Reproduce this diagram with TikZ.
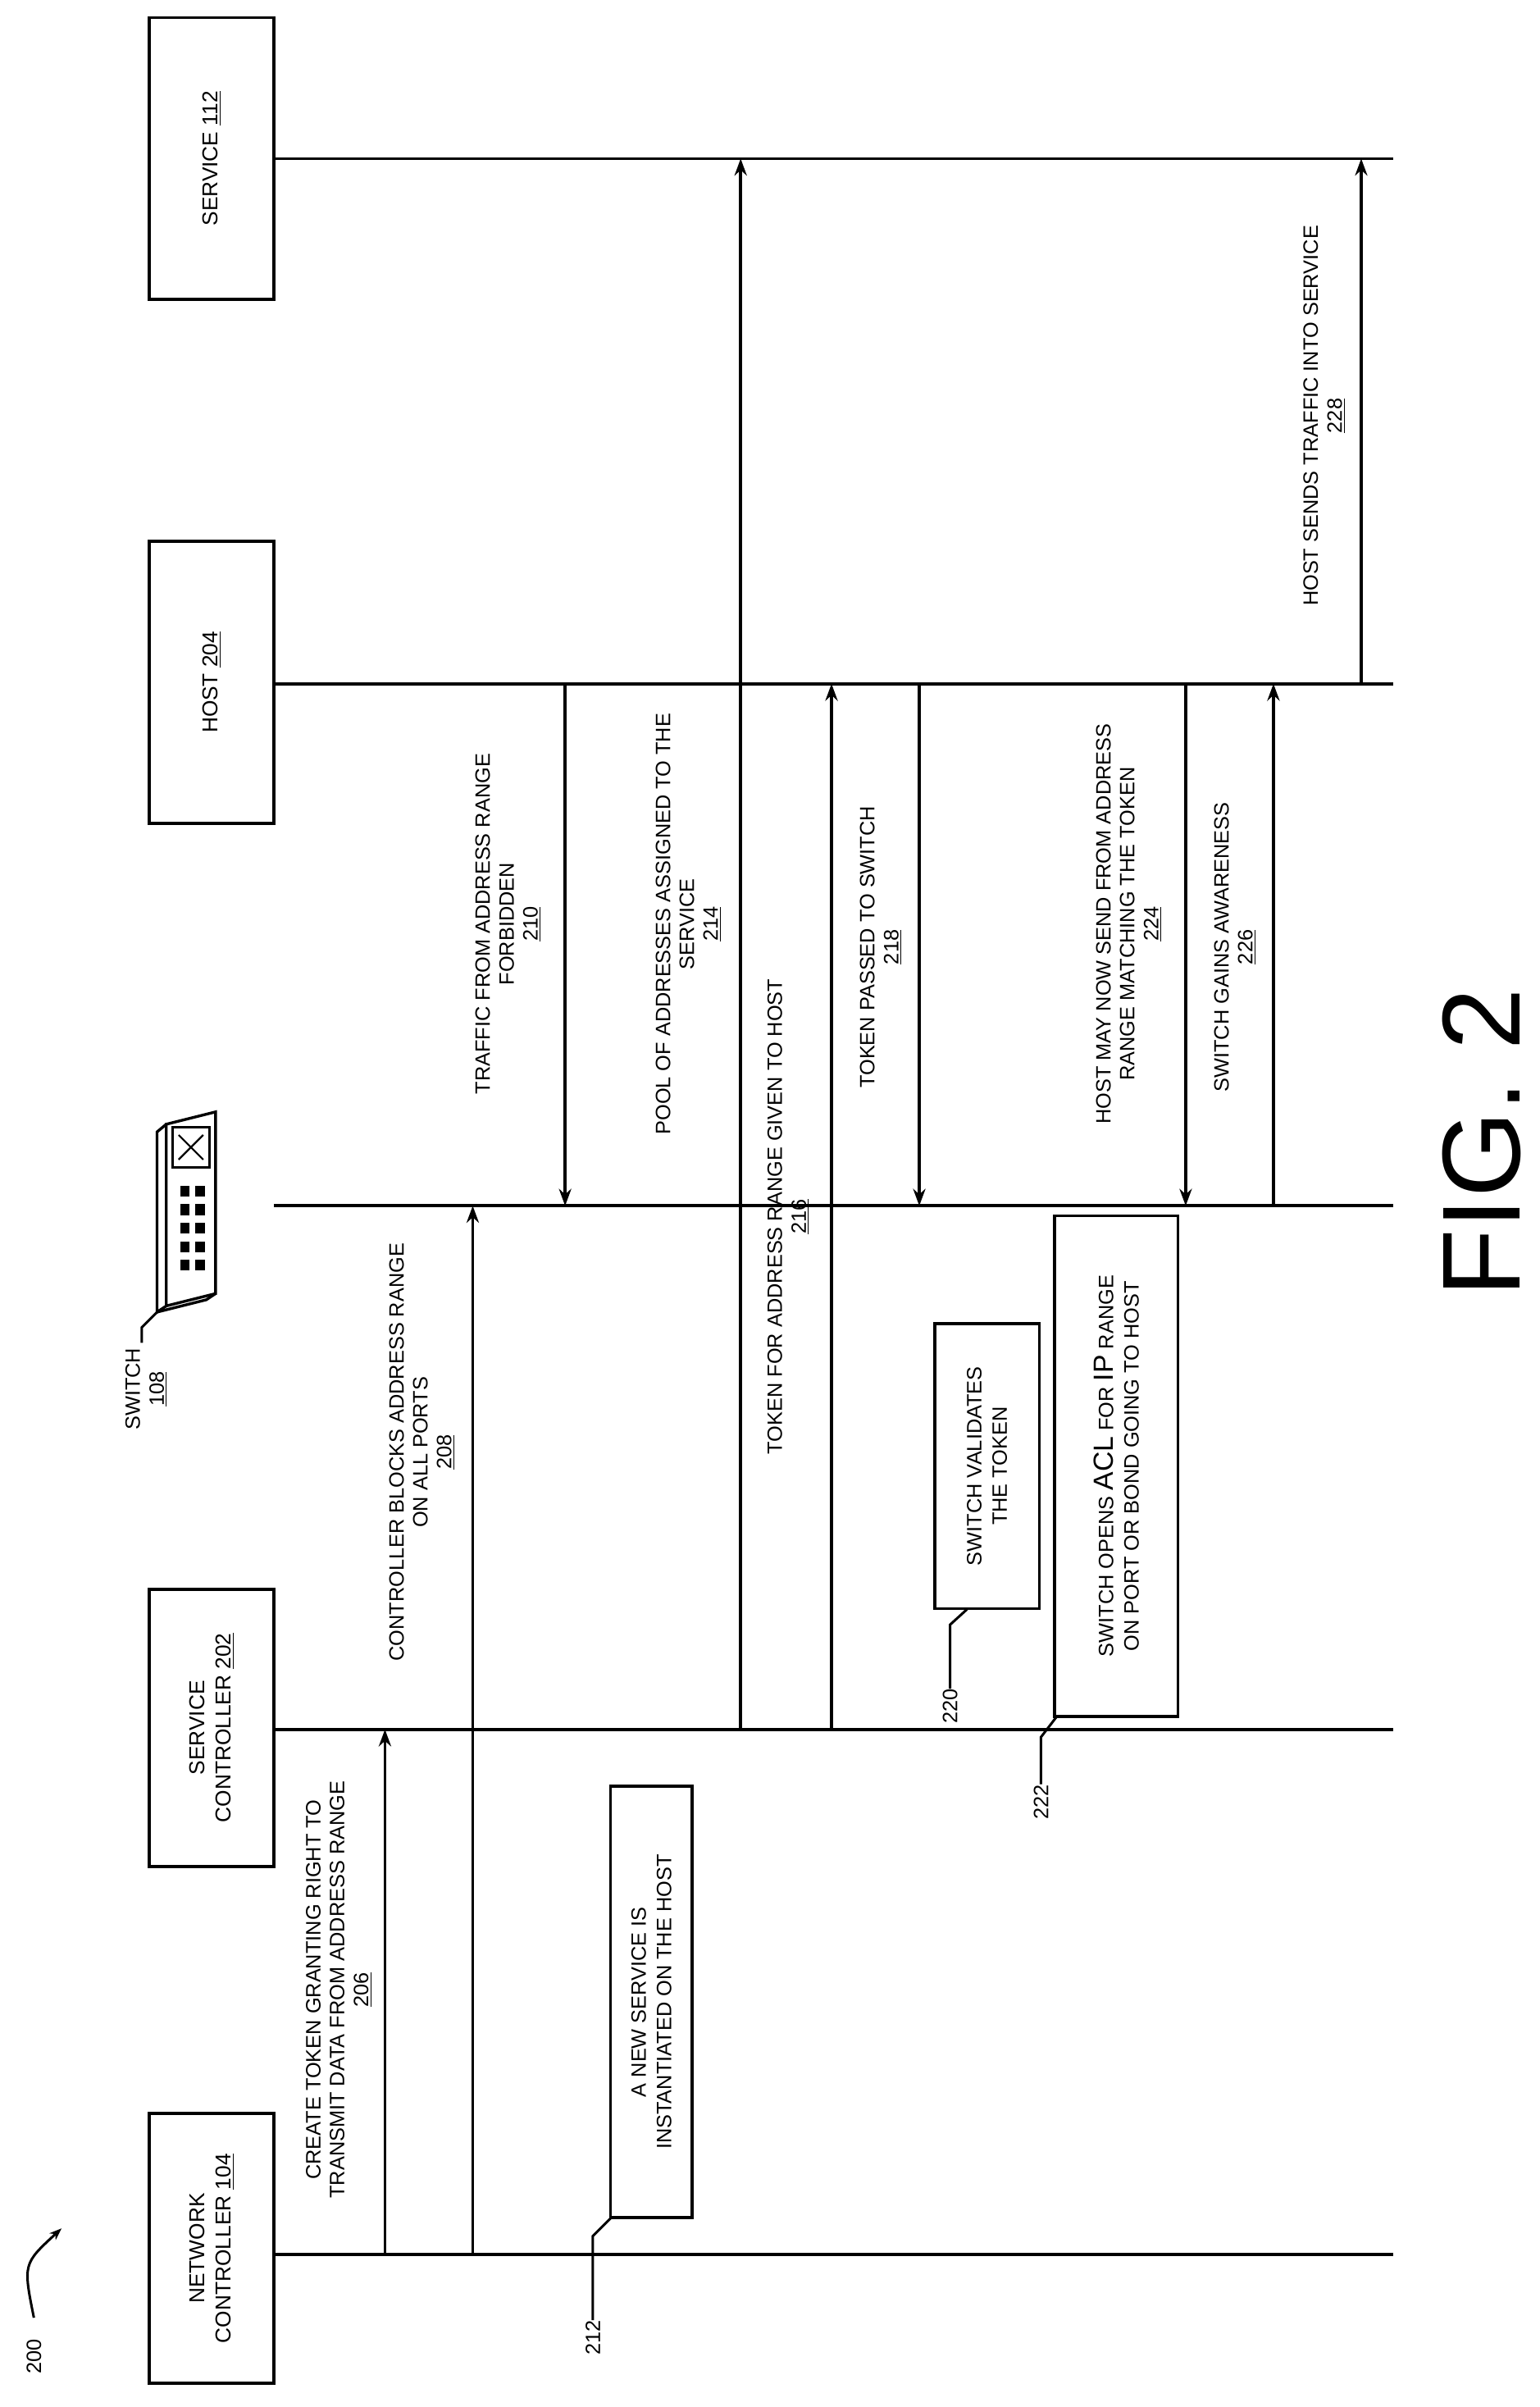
\documentclass[tikz,border=0pt]{standalone}
\usepackage{fontspec}
\setmainfont{Liberation Sans}
\usetikzlibrary{arrows.meta}
\begin{document}
\begin{tikzpicture}[x=1pt,y=-1pt,
  life/.style={line width=2pt},
  msg/.style={line width=2pt,-{Stealth[length=11pt,width=8pt]}},
  lbl/.style={rotate=90,align=center,font=\fontsize{13.5}{15.5}\selectfont,inner sep=0},
  ent/.style={draw,line width=2pt,rotate=90,align=center,inner sep=2pt,font=\fontsize{14}{17}\selectfont},
  notebox/.style={draw,line width=2pt,rotate=90,align=center,inner sep=3pt,font=\fontsize{13.5}{16.5}\selectfont},
  lead/.style={line width=1.6pt}]
\useasboundingbox (0,0) rectangle (1000,1563);
% lifelines
\foreach \n/\y in {nc/1464,sc/1123,sw/783,ho/444,se/103}{
  \coordinate (\n L) at (178,\y); \coordinate (\n R) at (905,\y);
  \draw[life] (\n L) -- (\n R);}
% entity boxes
\node[ent,minimum width=175pt,minimum height=81pt] (ncbox) at (137.5,1460) {NETWORK\\CONTROLLER \underline{104}};
\node[ent,minimum width=180pt,minimum height=81pt] (scbox) at (137.5,1122) {SERVICE\\CONTROLLER \underline{202}};
\node[ent,minimum width=183pt,minimum height=81pt] (hobox) at (137.5,443) {HOST \underline{204}};
\node[ent,minimum width=183pt,minimum height=81pt] (sebox) at (137.5,103) {SERVICE \underline{112}};
% switch icon
\draw[line width=1.8pt,fill=white] (108,730) -- (140,722) -- (140,840) -- (108,848) -- cycle;
\draw[line width=1.8pt] (108,730) -- (102,735) -- (102,852) -- (108,848);
\draw[line width=1.8pt] (102,852) -- (134,844) -- (140,840);
\draw[line width=1.4pt] (112,732) rectangle (136,758);
\draw[line width=1.2pt] (116,737) -- (132,753) (132,737) -- (116,753);
\foreach \i in {0,1,2,3,4}{\foreach \j in {0,1}{
  \fill (117+\j*10,770+\i*12) rectangle ++(6,7);}}
\node[lbl] (swlbl) at (95,902) {SWITCH\\\underline{108}};
\draw[lead] (92,872) -- (92,862) -- (102,852);
% messages
\coordinate (a206s) at (250,1464); \coordinate (a206e) at (250,1123);
\draw[msg] (a206s) -- (a206e);
\node[lbl] (l206) at (220,1292) {CREATE TOKEN GRANTING RIGHT TO\\TRANSMIT DATA FROM ADDRESS RANGE\\\underline{206}};
\coordinate (a208s) at (307,1464); \coordinate (a208e) at (307,783);
\draw[msg] (a208s) -- (a208e);
\node[lbl] (l208) at (274,943) {CONTROLLER BLOCKS ADDRESS RANGE\\ON ALL PORTS\\\underline{208}};
\coordinate (a210s) at (367,444); \coordinate (a210e) at (367,783);
\draw[msg] (a210s) -- (a210e);
\node[lbl] (l210) at (330,600) {TRAFFIC FROM ADDRESS RANGE\\FORBIDDEN\\\underline{210}};
\coordinate (a214s) at (481,1123); \coordinate (a214e) at (481,103);
\draw[msg] (a214s) -- (a214e);
\node[lbl] (l214) at (447,600) {POOL OF ADDRESSES ASSIGNED TO THE\\SERVICE\\\underline{214}};
\coordinate (a216s) at (540,1123); \coordinate (a216e) at (540,444);
\draw[msg] (a216s) -- (a216e);
\node[lbl] (l216) at (512,790) {TOKEN FOR ADDRESS RANGE GIVEN TO HOST\\\underline{216}};
\coordinate (a218s) at (597,444); \coordinate (a218e) at (597,783);
\draw[msg] (a218s) -- (a218e);
\node[lbl] (l218) at (572,615) {TOKEN PASSED TO SWITCH\\\underline{218}};
\coordinate (a224s) at (770,444); \coordinate (a224e) at (770,783);
\draw[msg] (a224s) -- (a224e);
\node[lbl] (l224) at (733,600) {HOST MAY NOW SEND FROM ADDRESS\\RANGE MATCHING THE TOKEN\\\underline{224}};
\coordinate (a226s) at (827,783); \coordinate (a226e) at (827,444);
\draw[msg] (a226s) -- (a226e);
\node[lbl] (l226) at (802,615) {SWITCH GAINS AWARENESS\\\underline{226}};
\coordinate (a228s) at (884,444); \coordinate (a228e) at (884,103);
\draw[msg] (a228s) -- (a228e);
\node[lbl] (l228) at (860,270) {HOST SENDS TRAFFIC INTO SERVICE\\\underline{228}};
% notes
\node[notebox,fill=white,minimum width=280pt,minimum height=53pt] (n212) at (423,1300) {A NEW SERVICE IS\\INSTANTIATED ON THE HOST};
\node[lbl] (t212) at (385,1518) {212};
\draw[lead] (t212.east) -- (385,1452) -- (397,1440);
\node[notebox,fill=white,minimum width=185pt,minimum height=68pt] (n220) at (641,952) {SWITCH VALIDATES\\THE TOKEN};
\node[lbl] (t220) at (617,1108) {220};
\draw[lead] (t220.east) -- (617,1055) -- (628,1045);
\node[notebox,fill=white,minimum width=325pt,minimum height=80pt] (n222) at (725,952) {SWITCH OPENS {\fontsize{18}{16}\selectfont ACL} FOR {\fontsize{18}{16}\selectfont IP} RANGE\\ON PORT OR BOND GOING TO HOST};
\node[lbl] (t222) at (676,1170) {222};
\draw[lead] (t222.east) -- (676,1128) -- (686,1115);
% fig label
\node[lbl,font=\fontsize{72}{74}\selectfont] (fig) at (962,742) {FIG. 2};
\node[lbl] (t200) at (22,1530) {200};
\coordinate (c200a) at (22,1505); \coordinate (c200b) at (40,1447);
\draw[line width=1.6pt,-{Stealth[length=8pt,width=6pt]}] (c200a) .. controls (15,1470) .. (c200b);
\end{tikzpicture}
\end{document}
